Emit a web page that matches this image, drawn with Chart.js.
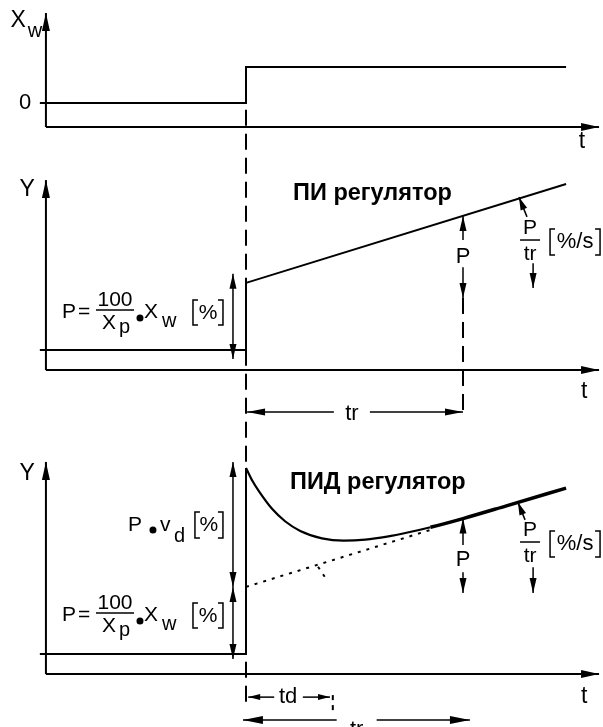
<!DOCTYPE html>
<html>
<head>
<meta charset="utf-8">
<script src="https://cdn.jsdelivr.net/npm/chart.js@4.4.0/dist/chart.umd.min.js"></script>
<style>
  html, body { margin: 0; padding: 0; background: #fff; }
  canvas { display: block; }
</style>
</head>
<body>
<canvas id="chart" width="603" height="727"></canvas>
<script>
// Step of the input Xw (top panel)
const xwTime = [-0.95, 0, 0, 1.475];
const xwValue = [0, 0, 1, 1];

// PI controller output Y [%]
const piTime = [-0.95, 0, 0, 1.475];
const piValue = [6, 6, 26, 55.5];

// PID controller output Y [%]
const pidStepTime = [-0.95, 0, 0];
const pidStepValue = [6, 6, 61.5];
const pidCurveTime = [0, 0.03, 0.06, 0.12, 0.18, 0.25, 0.35, 0.45, 0.55, 0.65, 0.75, 0.85, 1.0, 1.2, 1.475];
const pidCurveValue = [61.5, 57.6, 54.5, 49.3, 45.6, 42.7, 40.5, 39.8, 40.1, 41.0, 42.3, 43.8, 46.4, 50.2, 55.5];

// PI part of the PID response (dotted)
const pidPiTime = [0, 0.85];
const pidPiValue = [26, 43];
const tdMarkTime = [0.332, 0.373];
const tdMarkValue = [32, 28];

// text
const titlePI = 'ПИ регулятор';
const titlePID = 'ПИД регулятор';

const FONT = '"Liberation Sans", Arial, sans-serif';
const W = 603, H = 727;

// time axis: t = 0 at the step, t = 1 at tr
const axisTime = -0.922;
const axisEndTime = 1.627;

function panelRange(zeroPx, pxPerUnit) {
  return { min: (zeroPx - H) / pxPerUnit, max: zeroPx / pxPerUnit };
}

function series(times, values, axis, extra) {
  return Object.assign({
    data: times.map((t, i) => ({ x: t, y: values[i] })),
    yAxisID: axis,
    showLine: true,
    pointRadius: 0,
    borderColor: '#000',
    borderWidth: 2,
    tension: 0
  }, extra || {});
}

// drawing helpers
function head(ctx, x1, y1, x2, y2, len, half) {
  const a = Math.atan2(y2 - y1, x2 - x1);
  const c = Math.cos(a), s = Math.sin(a);
  ctx.beginPath();
  ctx.moveTo(x2, y2);
  ctx.lineTo(x2 - len * c + half * s, y2 - len * s - half * c);
  ctx.lineTo(x2 - len * c - half * s, y2 - len * s + half * c);
  ctx.closePath();
  ctx.fill();
}

function arrow(ctx, x1, y1, x2, y2, both, len, half) {
  len = len || 15; half = half || 3.5;
  ctx.beginPath();
  ctx.moveTo(x1, y1);
  ctx.lineTo(x2, y2);
  ctx.stroke();
  head(ctx, x1, y1, x2, y2, len, half);
  if (both) head(ctx, x2, y2, x1, y1, len, half);
}

function text(ctx, str, x, y, size, align, bold) {
  ctx.font = (bold ? 'bold ' : '') + size + 'px ' + FONT;
  ctx.textAlign = align || 'left';
  ctx.textBaseline = 'middle';
  ctx.fillText(str, x, y);
  return ctx.measureText(str).width;
}

function bracket(ctx, x1, x2, y1, y2) {
  ctx.lineWidth = 1.5;
  ctx.beginPath();
  ctx.moveTo(x1 + 5, y1); ctx.lineTo(x1, y1); ctx.lineTo(x1, y2); ctx.lineTo(x1 + 5, y2);
  ctx.moveTo(x2 - 5, y1); ctx.lineTo(x2, y1); ctx.lineTo(x2, y2); ctx.lineTo(x2 - 5, y2);
  ctx.stroke();
}

// P = 100/Xp • Xw [%]
function formulaP(ctx, x, yc) {
  text(ctx, 'P', x, yc, 21);
  text(ctx, '=', x + 16, yc, 21);
  text(ctx, '100', x + 53, yc - 12, 21, 'center');
  ctx.lineWidth = 1.5;
  ctx.beginPath(); ctx.moveTo(x + 34, yc - 2); ctx.lineTo(x + 72, yc - 2); ctx.stroke();
  text(ctx, 'X', x + 40, yc + 11, 21);
  text(ctx, 'p', x + 57, yc + 15, 20);
  ctx.beginPath(); ctx.arc(x + 78, yc + 6, 3.5, 0, Math.PI * 2); ctx.fill();
  text(ctx, 'X', x + 82, yc, 21);
  text(ctx, 'w', x + 100, yc + 9, 20);
  bracket(ctx, x + 131, x + 161, yc - 12, yc + 13);
  text(ctx, '%', x + 146, yc + 1, 21, 'center');
}

// P/tr [%/s]
function rateLabel(ctx, cx, bar) {
  text(ctx, 'P', cx, bar - 12, 21, 'center');
  ctx.lineWidth = 1.5;
  ctx.beginPath(); ctx.moveTo(cx - 10, bar); ctx.lineTo(cx + 10, bar); ctx.stroke();
  text(ctx, 'tr', cx, bar + 14, 21, 'center');
  bracket(ctx, cx + 20, cx + 70, bar - 11, bar + 15);
  text(ctx, '%/s', cx + 45, bar + 2, 22, 'center');
}

const diagram = {
  id: 'diagram',
  beforeDatasetsDraw(chart) {
    const ctx = chart.ctx;
    const sx = v => chart.scales.x.getPixelForValue(v);
    const sy = (id, v) => chart.scales[id].getPixelForValue(v);
    ctx.save();
    ctx.strokeStyle = '#000';
    ctx.lineWidth = 2;
    ctx.setLineDash([16, 8]);
    // long dashed line under the step
    ctx.beginPath();
    ctx.moveTo(sx(0), sy('yTop', -0.19));
    ctx.lineTo(sx(0), sy('yBot', -8.7));
    ctx.stroke();
    // dashed line at tr in the PI panel
    ctx.beginPath();
    ctx.moveTo(sx(1), sy('yMid', 21.5));
    ctx.lineTo(sx(1), sy('yMid', -14));
    ctx.stroke();
    // td end, dotted
    ctx.setLineDash([5, 5]);
    ctx.beginPath();
    ctx.moveTo(sx(0.4), sy('yBot', -6.3));
    ctx.lineTo(sx(0.4), sy('yBot', -11.3));
    ctx.stroke();
    ctx.restore();
  },
  afterDatasetsDraw(chart) {
    const ctx = chart.ctx;
    const sx = v => chart.scales.x.getPixelForValue(v);
    const sy = (id, v) => chart.scales[id].getPixelForValue(v);
    ctx.save();
    ctx.strokeStyle = '#000';
    ctx.fillStyle = '#000';

    // axes with arrow heads
    const panels = [
      { id: 'yTop', base: -0.667, top: 2.5 },
      { id: 'yMid', base: 0, top: 56.7 },
      { id: 'yBot', base: 0, top: 63.3 }
    ];
    ctx.lineWidth = 2;
    panels.forEach(p => {
      const x0 = sx(axisTime), y0 = sy(p.id, p.base);
      arrow(ctx, x0, y0, x0, sy(p.id, p.top), false, 18, 4);
      arrow(ctx, x0, y0, sx(axisEndTime), y0, false, 18, 4);
    });

    // axis labels
    text(ctx, 'X', sx(-1.05), sy('yTop', 2.3), 23, 'center');
    text(ctx, 'w', sx(-0.973), sy('yTop', 1.98), 20, 'center');
    text(ctx, '0', sx(-1.018), sy('yTop', 0), 22, 'center');
    text(ctx, 't', sx(1.548), sy('yTop', -1.08), 23, 'center');
    text(ctx, 'Y', sx(-1.009), sy('yMid', 53.7), 23, 'center');
    text(ctx, 't', sx(1.558), sy('yMid', -6.6), 23, 'center');
    text(ctx, 'Y', sx(-1.009), sy('yBot', 59.7), 23, 'center');
    text(ctx, 't', sx(1.558), sy('yBot', -6.9), 23, 'center');

    // titles
    text(ctx, titlePI, sx(0.217), sy('yMid', 52.8), 23.5, 'left', true);
    text(ctx, titlePID, sx(0.203), sy('yBot', 57.3), 23.5, 'left', true);

    // ---- PI panel
    ctx.lineWidth = 1.5;
    arrow(ctx, sx(-0.06), sy('yMid', 3.3), sx(-0.06), sy('yMid', 28.7), true, 15, 3.5);
    formulaP(ctx, sx(-0.848), sy('yMid', 17.3));
    ctx.lineWidth = 1.5;
    arrow(ctx, sx(1), sy('yMid', 38.8), sx(1), sy('yMid', 46), false, 15, 3.5);
    text(ctx, 'P', sx(1), sy('yMid', 33.7), 22, 'center');
    ctx.lineWidth = 1.5;
    arrow(ctx, sx(1), sy('yMid', 30.7), sx(1), sy('yMid', 21.5), false, 15, 3.5);
    arrow(ctx, sx(1.295), sy('yMid', 45.7), sx(1.258), sy('yMid', 51.6), false, 13, 3.5);
    arrow(ctx, sx(1.323), sy('yMid', 31.9), sx(1.323), sy('yMid', 24.5), false, 15, 3.5);
    rateLabel(ctx, sx(1.309), sy('yMid', 38.8));
    // tr dimension
    let y = sy('yMid', -12.5), xm = sx(0.488);
    ctx.lineWidth = 1.5;
    arrow(ctx, xm - 18, y, sx(0.005), y, false, 18, 3.5);
    arrow(ctx, xm + 18, y, sx(1), y, false, 18, 3.5);
    text(ctx, 'tr', xm, y + 2, 22, 'center');

    // ---- PID panel
    ctx.lineWidth = 1.5;
    arrow(ctx, sx(-0.06), sy('yBot', 26), sx(-0.06), sy('yBot', 63.3), true, 15, 3.5);
    arrow(ctx, sx(-0.06), sy('yBot', 4.5), sx(-0.06), sy('yBot', 26), true, 15, 3.5);
    formulaP(ctx, sx(-0.848), sy('yBot', 17.6));
    // P • vd [%]
    let px = sx(-0.544), pyc = sy('yBot', 44.5);
    text(ctx, 'P', px, pyc, 21);
    ctx.beginPath(); ctx.arc(px + 25, pyc + 5, 3.5, 0, Math.PI * 2); ctx.fill();
    text(ctx, 'v', px + 32, pyc, 21);
    text(ctx, 'd', px + 46, pyc + 12, 20);
    bracket(ctx, px + 67, px + 95, pyc - 13, pyc + 13);
    text(ctx, '%', px + 81, pyc, 21, 'center');

    ctx.lineWidth = 1.5;
    arrow(ctx, sx(1), sy('yBot', 38.5), sx(1), sy('yBot', 46.4), false, 15, 3.5);
    text(ctx, 'P', sx(1), sy('yBot', 34.0), 22, 'center');
    ctx.lineWidth = 1.5;
    arrow(ctx, sx(1), sy('yBot', 30.4), sx(1), sy('yBot', 24.2), false, 15, 3.5);
    arrow(ctx, sx(1.286), sy('yBot', 46.0), sx(1.253), sy('yBot', 51.3), false, 13, 3.5);
    arrow(ctx, sx(1.323), sy('yBot', 31.9), sx(1.323), sy('yBot', 24.2), false, 15, 3.5);
    rateLabel(ctx, sx(1.309), sy('yBot', 39.4));

    // td dimension
    y = sy('yBot', -6.9);
    ctx.lineWidth = 1.5;
    arrow(ctx, sx(0.13), y, sx(0.01), y, false, 12, 3);
    arrow(ctx, sx(0.262), y, sx(0.387), y, false, 12, 3);
    text(ctx, 'td', sx(0.194), y, 22, 'center');
    // tr dimension
    y = sy('yBot', -13.7); xm = sx(0.51);
    arrow(ctx, xm - 20, y, sx(-0.014), y, false, 20, 4);
    arrow(ctx, xm + 20, y, sx(1.032), y, false, 20, 4);
    text(ctx, 'tr', xm, sy('yBot', -16.6), 22, 'center');

    ctx.restore();
  }
};

new Chart(document.getElementById('chart'), {
  type: 'scatter',
  data: {
    datasets: [
      series(xwTime, xwValue, 'yTop'),
      series(piTime, piValue, 'yMid'),
      series(pidStepTime, pidStepValue, 'yBot'),
      series(pidCurveTime, pidCurveValue, 'yBot', {
        cubicInterpolationMode: 'monotone',
        segment: { borderWidth: c => (c.p0.parsed.x >= 0.8 ? 3.5 : 2.2) }
      }),
      series(pidPiTime, pidPiValue, 'yBot', { borderDash: [3, 6], borderWidth: 2 }),
      series(tdMarkTime, tdMarkValue, 'yBot', { borderDash: [3, 6], borderWidth: 2 })
    ]
  },
  options: {
    responsive: false,
    animation: false,
    devicePixelRatio: 1,
    layout: { padding: 0 },
    plugins: { legend: { display: false }, tooltip: { enabled: false } },
    scales: {
      x: { type: 'linear', display: false, min: -246 / 217, max: (W - 246) / 217 },
      yTop: Object.assign({ type: 'linear', display: false, position: 'left' }, panelRange(103, 36)),
      yMid: Object.assign({ type: 'linear', display: false, position: 'left' }, panelRange(370, 3.35)),
      yBot: Object.assign({ type: 'linear', display: false, position: 'left' }, panelRange(674, 3.35))
    }
  },
  plugins: [diagram]
});
</script>
</body>
</html>
